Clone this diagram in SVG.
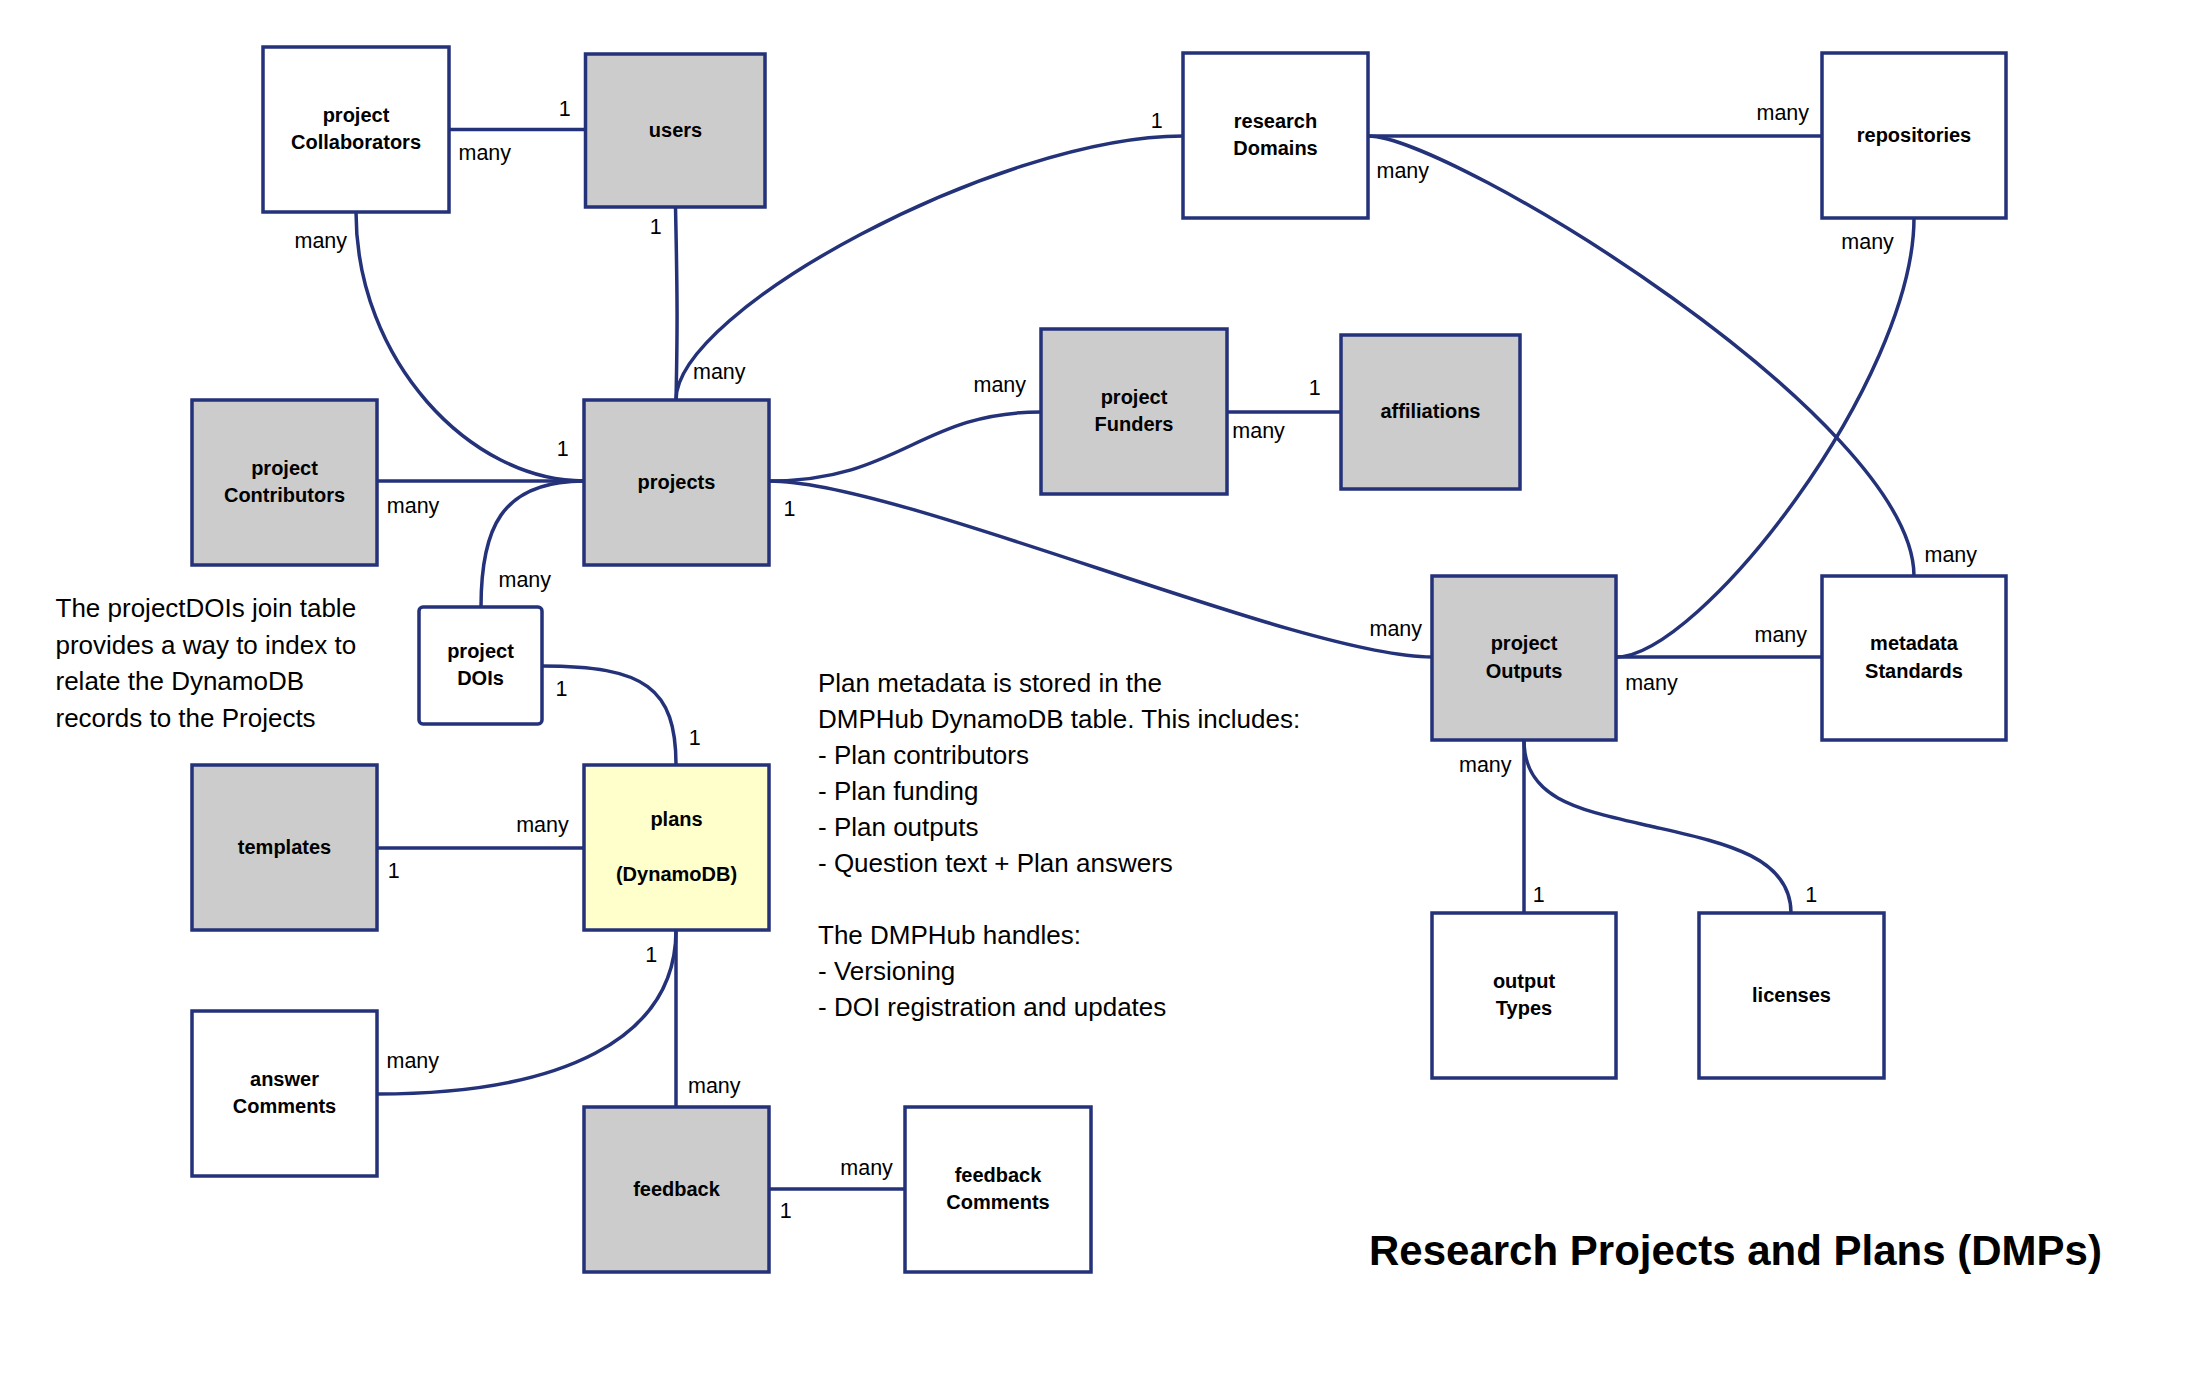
<svg xmlns="http://www.w3.org/2000/svg" width="2204" height="1374" viewBox="0 0 2204 1374">
<style>
.node rect{stroke:#24327a;stroke-width:3.5}
.w{fill:#ffffff}.g{fill:#cccccc}.y{fill:#ffffcc}
.nl{font-family:"Liberation Sans",Arial,sans-serif;font-weight:bold;font-size:20px;text-anchor:middle;fill:#000}
.edge{fill:none;stroke:#24327a;stroke-width:3.5}
.lbl{font-family:"Liberation Sans",Arial,sans-serif;font-size:21.5px;fill:#000}
.note{font-family:"Liberation Sans",Arial,sans-serif;fill:#000}
</style>
<rect width="2204" height="1374" fill="#ffffff"/>
<g id="connectors">
<path class="edge" d="M449,129.5 L585,129.5"/>
<path class="edge" d="M356,212 C356,360 470,481 584,481"/>
<path class="edge" d="M675.5,207 C677.5,300 677.5,330 676,400"/>
<path class="edge" d="M676,400 C676,310 1000,136 1183,136"/>
<path class="edge" d="M377,481 L584,481"/>
<path class="edge" d="M584,481 C500,481 481,530 481,607"/>
<path class="edge" d="M542,666 C645,666 676,688 676,765"/>
<path class="edge" d="M377,848 L584,848"/>
<path class="edge" d="M676,930 C676,1040 560,1094 377,1094"/>
<path class="edge" d="M676,930 L676,1107"/>
<path class="edge" d="M769,1189 L905,1189"/>
<path class="edge" d="M769,481 C900,481 920,412 1041,412"/>
<path class="edge" d="M769,481 C900,481 1300,657 1432,657"/>
<path class="edge" d="M1227,412 L1341,412"/>
<path class="edge" d="M1368,136 L1822,136"/>
<path class="edge" d="M1368,136 C1450,136 1914,420 1914,576"/>
<path class="edge" d="M1914,218 C1914,380 1700,657 1616,657"/>
<path class="edge" d="M1616,657 L1822,657"/>
<path class="edge" d="M1524,740 L1524,913"/>
<path class="edge" d="M1524,740 C1524,800 1580,810 1650,826 C1720,842 1791,855 1791,913"/>
</g>
<g id="labels" class="lbl">
<text x="558.7" y="116">1</text>
<text x="458.5" y="160">many</text>
<text x="294.5" y="248">many</text>
<text x="556.7" y="456">1</text>
<text x="649.7" y="234">1</text>
<text x="693" y="379">many</text>
<text x="1150.7" y="128">1</text>
<text x="386.8" y="513">many</text>
<text x="498.5" y="587">many</text>
<text x="555.4" y="696">1</text>
<text x="688.7" y="745">1</text>
<text x="516.2" y="832">many</text>
<text x="387.7" y="878">1</text>
<text x="645.2" y="962">1</text>
<text x="386.5" y="1068">many</text>
<text x="688" y="1093">many</text>
<text x="840.3" y="1175">many</text>
<text x="779.7" y="1218">1</text>
<text x="973.5" y="392">many</text>
<text x="783.4" y="516">1</text>
<text x="1369.5" y="636">many</text>
<text x="1308.7" y="395">1</text>
<text x="1232.3" y="437.5">many</text>
<text x="1756.5" y="119.5">many</text>
<text x="1376.5" y="177.5">many</text>
<text x="1924.5" y="561.5">many</text>
<text x="1841.3" y="249">many</text>
<text x="1754.5" y="642">many</text>
<text x="1625.2" y="690">many</text>
<text x="1459" y="772">many</text>
<text x="1532.7" y="901.5">1</text>
<text x="1805.3" y="901.5">1</text>
</g>
<g id="projectCollaborators" class="node"><rect class="w" x="263" y="47" width="186" height="165"/><text class="nl" x="356" y="121.8">project</text><text class="nl" x="356" y="149.2">Collaborators</text></g>
<g id="users" class="node"><rect class="g" x="585.5" y="54" width="179.5" height="153"/><text class="nl" x="675.5" y="136.5">users</text></g>
<g id="projects" class="node"><rect class="g" x="584" y="400" width="185" height="165"/><text class="nl" x="676.5" y="488.5">projects</text></g>
<g id="projectContributors" class="node"><rect class="g" x="192" y="400" width="185" height="165"/><text class="nl" x="284.5" y="474.8">project</text><text class="nl" x="284.5" y="502.2">Contributors</text></g>
<g id="projectDOIs" class="node"><rect class="w" x="419" y="607" width="123" height="117" rx="4" ry="4"/><text class="nl" x="480.5" y="657.8">project</text><text class="nl" x="480.5" y="685.2">DOIs</text></g>
<g id="templates" class="node"><rect class="g" x="192" y="765" width="185" height="165"/><text class="nl" x="284.5" y="853.5">templates</text></g>
<g id="plans" class="node"><rect class="y" x="584" y="765" width="185" height="165"/><text class="nl" x="676.5" y="826">plans</text><text class="nl" x="676.5" y="881">(DynamoDB)</text></g>
<g id="answerComments" class="node"><rect class="w" x="192" y="1011" width="185" height="165"/><text class="nl" x="284.5" y="1085.8">answer</text><text class="nl" x="284.5" y="1113.2">Comments</text></g>
<g id="feedback" class="node"><rect class="g" x="584" y="1107" width="185" height="165"/><text class="nl" x="676.5" y="1195.5">feedback</text></g>
<g id="feedbackComments" class="node"><rect class="w" x="905" y="1107" width="186" height="165"/><text class="nl" x="998" y="1181.8">feedback</text><text class="nl" x="998" y="1209.2">Comments</text></g>
<g id="researchDomains" class="node"><rect class="w" x="1183" y="53" width="185" height="165"/><text class="nl" x="1275.5" y="127.8">research</text><text class="nl" x="1275.5" y="155.2">Domains</text></g>
<g id="repositories" class="node"><rect class="w" x="1822" y="53" width="184" height="165"/><text class="nl" x="1914" y="141.5">repositories</text></g>
<g id="projectFunders" class="node"><rect class="g" x="1041" y="329" width="186" height="165"/><text class="nl" x="1134" y="403.8">project</text><text class="nl" x="1134" y="431.2">Funders</text></g>
<g id="affiliations" class="node"><rect class="g" x="1341" y="335" width="179" height="154"/><text class="nl" x="1430.5" y="418">affiliations</text></g>
<g id="projectOutputs" class="node"><rect class="g" x="1432" y="576" width="184" height="164"/><text class="nl" x="1524" y="650.3">project</text><text class="nl" x="1524" y="677.7">Outputs</text></g>
<g id="metadataStandards" class="node"><rect class="w" x="1822" y="576" width="184" height="164"/><text class="nl" x="1914" y="650.3">metadata</text><text class="nl" x="1914" y="677.7">Standards</text></g>
<g id="outputTypes" class="node"><rect class="w" x="1432" y="913" width="184" height="165"/><text class="nl" x="1524" y="987.8">output</text><text class="nl" x="1524" y="1015.2">Types</text></g>
<g id="licenses" class="node"><rect class="w" x="1699" y="913" width="185" height="165"/><text class="nl" x="1791.5" y="1001.5">licenses</text></g>
<g id="notes" class="note">
<text font-size="26" x="55.5"><tspan x="55.5" y="617">The projectDOIs join table</tspan><tspan x="55.5" y="653.5">provides a way to index to</tspan><tspan x="55.5" y="690">relate the DynamoDB</tspan><tspan x="55.5" y="726.5">records to the Projects</tspan></text>
<text font-size="26" x="818"><tspan x="818" y="692">Plan metadata is stored in the</tspan><tspan x="818" y="728">DMPHub DynamoDB table. This includes:</tspan><tspan x="818" y="764">- Plan contributors</tspan><tspan x="818" y="800">- Plan funding</tspan><tspan x="818" y="836">- Plan outputs</tspan><tspan x="818" y="872">- Question text + Plan answers</tspan><tspan x="818" y="944">The DMPHub handles:</tspan><tspan x="818" y="980">- Versioning</tspan><tspan x="818" y="1016">- DOI registration and updates</tspan></text>
<text x="1369" y="1265" font-size="42" font-weight="bold">Research Projects and Plans (DMPs)</text>
</g>
</svg>
